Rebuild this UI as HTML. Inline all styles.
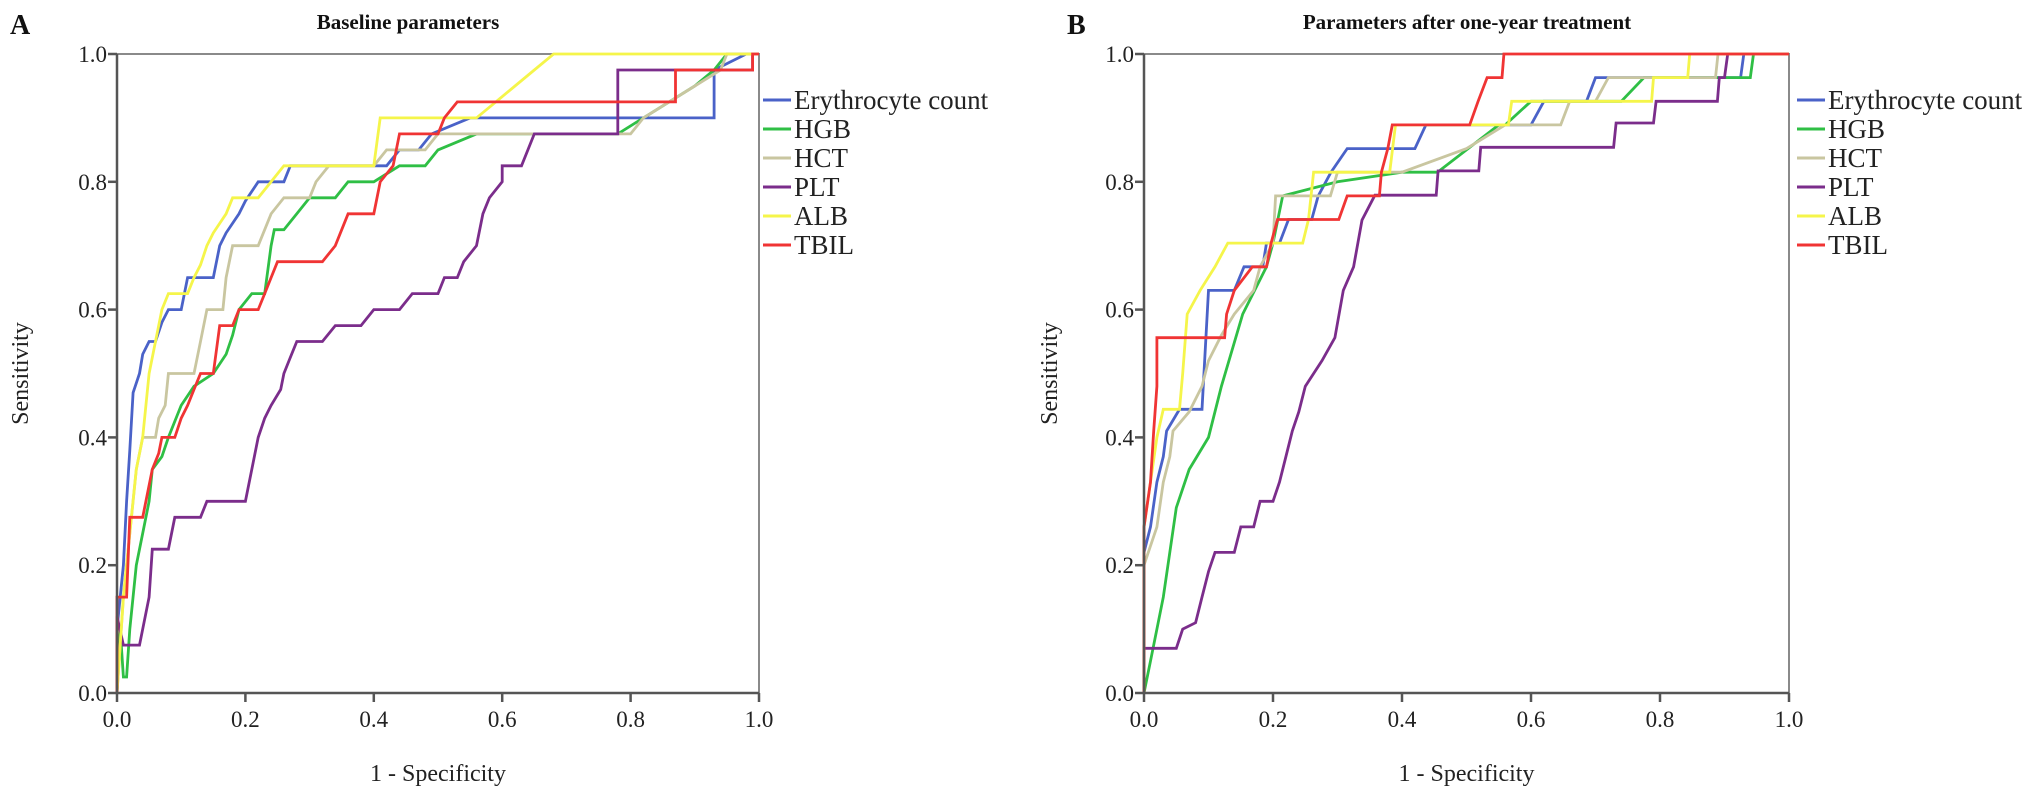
<!DOCTYPE html>
<html><head><meta charset="utf-8"><style>
html,body{margin:0;padding:0;background:#fff;}
svg{display:block;font-family:"Liberation Serif",serif;}
</style></head><body>
<svg id="fig" width="2031" height="803" viewBox="0 0 2031 803" xmlns="http://www.w3.org/2000/svg"></svg>
<script>
// ---- Panel A data ----
const aEryX=[0,0,0.01,0.015,0.02,0.025,0.035,0.04,0.05,0.06,0.07,0.08,0.1,0.11,0.15,0.16,0.17,0.19,0.2,0.22,0.26,0.27,0.42,0.44,0.47,0.49,0.55,0.93,0.93,0.98,1];
const aEryY=[0,0.1,0.2,0.3,0.38,0.47,0.5,0.53,0.55,0.55,0.58,0.6,0.6,0.65,0.65,0.7,0.72,0.75,0.77,0.8,0.8,0.825,0.825,0.85,0.85,0.875,0.9,0.9,0.975,1,1];
const aHgbX=[0,0.005,0.01,0.015,0.02,0.03,0.04,0.05,0.055,0.07,0.08,0.1,0.12,0.15,0.17,0.18,0.19,0.21,0.23,0.24,0.245,0.26,0.28,0.3,0.34,0.36,0.4,0.44,0.48,0.5,0.56,0.78,0.82,0.86,0.9,0.93,0.95,1];
const aHgbY=[0,0.1,0.025,0.025,0.1,0.2,0.25,0.3,0.35,0.37,0.4,0.45,0.48,0.5,0.53,0.56,0.6,0.625,0.625,0.7,0.725,0.725,0.75,0.775,0.775,0.8,0.8,0.825,0.825,0.85,0.875,0.875,0.9,0.925,0.95,0.975,1,1];
const aHctX=[0,0.01,0.02,0.03,0.04,0.06,0.065,0.075,0.08,0.12,0.13,0.14,0.165,0.17,0.18,0.22,0.24,0.26,0.3,0.31,0.33,0.4,0.42,0.48,0.5,0.8,0.82,0.86,0.9,0.94,0.95,1];
const aHctY=[0,0.15,0.25,0.35,0.4,0.4,0.43,0.45,0.5,0.5,0.55,0.6,0.6,0.65,0.7,0.7,0.75,0.775,0.775,0.8,0.825,0.825,0.85,0.85,0.875,0.875,0.9,0.925,0.95,0.975,1,1];
const aPltX=[0,0,0.01,0.035,0.04,0.05,0.055,0.08,0.09,0.13,0.14,0.2,0.21,0.22,0.23,0.24,0.255,0.26,0.27,0.28,0.32,0.34,0.38,0.4,0.44,0.46,0.5,0.51,0.53,0.54,0.56,0.57,0.58,0.6,0.6,0.63,0.64,0.65,0.78,0.78,0.99,0.99,1];
const aPltY=[0,0.12,0.075,0.075,0.1,0.15,0.225,0.225,0.275,0.275,0.3,0.3,0.35,0.4,0.43,0.45,0.475,0.5,0.525,0.55,0.55,0.575,0.575,0.6,0.6,0.625,0.625,0.65,0.65,0.675,0.7,0.75,0.775,0.8,0.825,0.825,0.85,0.875,0.875,0.975,0.975,1,1];
const aAlbX=[0,0.01,0.02,0.03,0.04,0.05,0.06,0.07,0.08,0.11,0.12,0.13,0.14,0.15,0.17,0.18,0.22,0.24,0.26,0.4,0.41,0.56,0.59,0.62,0.65,0.68,1];
const aAlbY=[0,0.15,0.25,0.35,0.4,0.5,0.55,0.6,0.625,0.625,0.65,0.67,0.7,0.72,0.75,0.775,0.775,0.8,0.825,0.825,0.9,0.9,0.925,0.95,0.975,1,1];
const aTbiX=[0,0,0.015,0.02,0.04,0.045,0.055,0.065,0.07,0.09,0.1,0.11,0.12,0.13,0.15,0.16,0.18,0.19,0.22,0.23,0.24,0.25,0.32,0.34,0.36,0.4,0.41,0.43,0.44,0.5,0.51,0.53,0.87,0.87,0.99,0.99,1];
const aTbiY=[0,0.15,0.15,0.275,0.275,0.3,0.35,0.375,0.4,0.4,0.43,0.45,0.475,0.5,0.5,0.575,0.575,0.6,0.6,0.625,0.65,0.675,0.675,0.7,0.75,0.75,0.8,0.825,0.875,0.875,0.9,0.925,0.925,0.975,0.975,1,1];
// ---- Panel B data ----
const bEryX=[0,0,0.01,0.02,0.03,0.035,0.055,0.09,0.1,0.14,0.155,0.184,0.19,0.21,0.224,0.26,0.27,0.29,0.315,0.42,0.437,0.6,0.62,0.686,0.7,0.925,0.93,1];
const bEryY=[0,0.22,0.26,0.33,0.37,0.41,0.444,0.444,0.63,0.63,0.667,0.667,0.704,0.704,0.741,0.741,0.778,0.815,0.852,0.852,0.889,0.889,0.926,0.926,0.963,0.963,1,1];
const bHgbX=[0,0.01,0.02,0.03,0.04,0.05,0.07,0.1,0.12,0.153,0.19,0.2,0.215,0.3,0.4,0.455,0.55,0.56,0.6,0.74,0.775,0.94,0.945,1];
const bHgbY=[0,0.05,0.1,0.15,0.22,0.29,0.35,0.4,0.48,0.593,0.667,0.704,0.778,0.8,0.815,0.815,0.889,0.889,0.926,0.926,0.963,0.963,1,1];
const bHctX=[0,0,0.02,0.03,0.04,0.045,0.07,0.09,0.1,0.12,0.14,0.17,0.18,0.2,0.204,0.289,0.3,0.4,0.5,0.56,0.646,0.66,0.7,0.72,0.886,0.89,1];
const bHctY=[0,0.2,0.26,0.33,0.37,0.41,0.44,0.48,0.52,0.56,0.593,0.63,0.667,0.704,0.778,0.778,0.815,0.815,0.852,0.889,0.889,0.926,0.926,0.963,0.963,1,1];
const bPltX=[0,0,0.05,0.06,0.08,0.09,0.1,0.11,0.14,0.15,0.17,0.18,0.2,0.21,0.22,0.23,0.24,0.25,0.276,0.296,0.309,0.325,0.338,0.358,0.453,0.456,0.519,0.522,0.728,0.732,0.79,0.794,0.889,0.892,0.9,0.905,1];
const bPltY=[0,0.07,0.07,0.1,0.11,0.15,0.19,0.22,0.22,0.26,0.26,0.3,0.3,0.33,0.37,0.41,0.44,0.48,0.52,0.556,0.63,0.667,0.74,0.779,0.779,0.817,0.817,0.854,0.854,0.892,0.892,0.926,0.926,0.963,0.963,1,1];
const bAlbX=[0,0,0.01,0.02,0.03,0.055,0.06,0.067,0.087,0.11,0.13,0.246,0.255,0.263,0.381,0.39,0.565,0.57,0.787,0.79,0.843,0.846,1];
const bAlbY=[0,0.26,0.33,0.4,0.444,0.444,0.5,0.593,0.63,0.667,0.704,0.704,0.741,0.815,0.815,0.889,0.889,0.926,0.926,0.963,0.963,1,1];
const bTbiX=[0,0,0.01,0.015,0.02,0.02,0.125,0.128,0.14,0.168,0.19,0.197,0.207,0.302,0.315,0.365,0.368,0.378,0.385,0.505,0.518,0.532,0.555,0.558,1];
const bTbiY=[0,0.26,0.33,0.41,0.48,0.556,0.556,0.593,0.63,0.667,0.667,0.704,0.741,0.741,0.778,0.778,0.815,0.852,0.889,0.889,0.926,0.963,0.963,1,1];
const tickVals=[0,0.2,0.4,0.6,0.8,1.0];
const tickLabels=["0.0","0.2","0.4","0.6","0.8","1.0"];
const legendNames=["Erythrocyte count","HGB","HCT","PLT","ALB","TBIL"];
const seriesColors=["#4a62c8","#2fbf45","#c9c6a0","#7b2d8b","#f5f54a","#f03434"];

const NS="http://www.w3.org/2000/svg";
const svg=document.getElementById('fig');
function mk(tag,attrs,parent){const e=document.createElementNS(NS,tag);for(const k in attrs)e.setAttribute(k,attrs[k]);(parent||svg).appendChild(e);return e;}

function panel(id,left,right,title,titleX,letter,letterX,sensX,legX,series){
  const top=54,bottom=693;
  const sx=v=>left+v*(right-left), sy=v=>bottom-v*(bottom-top);
  const g=mk('g',{});
  
  
  const L=mk('text',{x:letterX,y:34,'font-size':28,'font-weight':'bold',fill:'#111'},g);L.textContent=letter;
  
  
  const T=mk('text',{x:titleX,y:29,'font-size':21,'font-weight':'bold','text-anchor':'middle',fill:'#111'},g);T.textContent=title;
  
  
  const fr=mk('path',{d:`M${left},${top}H${right}V${bottom}`,fill:'none',stroke:'#8a8a8a','stroke-width':2},g);
  
  
  series.forEach((s,i)=>{
    let d='';s[0].forEach((xv,j)=>{d+=(j?'L':'M')+sx(xv).toFixed(1)+','+sy(s[1][j]).toFixed(1);});
    const p=mk('path',{d:d,fill:'none',stroke:seriesColors[i],'stroke-width':2.8,'stroke-linejoin':'miter'},g);
    
    
  });
  const ax=mk('path',{d:`M${left},${top}V${bottom}H${right}`,fill:'none',stroke:'#555','stroke-width':2.5},g);
  
  
  tickVals.forEach((v,i)=>{
    mk('line',{x1:left-9,x2:left,y1:sy(v),y2:sy(v),stroke:'#555','stroke-width':2.5},g);
    const ty=mk('text',{x:left-10,y:sy(v)+8,'font-size':23,'text-anchor':'end',fill:'#222'},g);ty.textContent=tickLabels[i];
    
    
    mk('line',{x1:sx(v),x2:sx(v),y1:bottom,y2:bottom+9,stroke:'#555','stroke-width':2.5},g);
    const tx=mk('text',{x:sx(v),y:bottom+34,'font-size':23,'text-anchor':'middle',fill:'#222'},g);tx.textContent=tickLabels[i];
    
    
  });
  const xt=mk('text',{x:(left+right)/2,y:bottom+88,'font-size':24,'text-anchor':'middle',fill:'#222'},g);xt.textContent='1 - Specificity';
  
  
  const yt=mk('text',{x:sensX,y:(top+bottom)/2,'font-size':24,'text-anchor':'middle',fill:'#222',transform:`rotate(-90 ${sensX} ${(top+bottom)/2})`},g);yt.textContent='Sensitivity';
  
  
  legendNames.forEach((n,i)=>{
    const y=100+i*29;
    const le=mk('g',{},g);
    
    
    mk('line',{x1:legX,x2:legX+28,y1:y,y2:y,stroke:seriesColors[i],'stroke-width':3},le);
    const t=mk('text',{x:legX+31,y:y+9,'font-size':27,fill:'#222'},le);t.textContent=n;
  });
}
panel('a',117,759,'Baseline parameters',408,'A',10,28,763,
  [[aEryX,aEryY],[aHgbX,aHgbY],[aHctX,aHctY],[aPltX,aPltY],[aAlbX,aAlbY],[aTbiX,aTbiY]]);
panel('b',1144,1789,'Parameters after one-year treatment',1467,'B',1067,1057,1797,
  [[bEryX,bEryY],[bHgbX,bHgbY],[bHctX,bHctY],[bPltX,bPltY],[bAlbX,bAlbY],[bTbiX,bTbiY]]);
</script>
</body></html>
